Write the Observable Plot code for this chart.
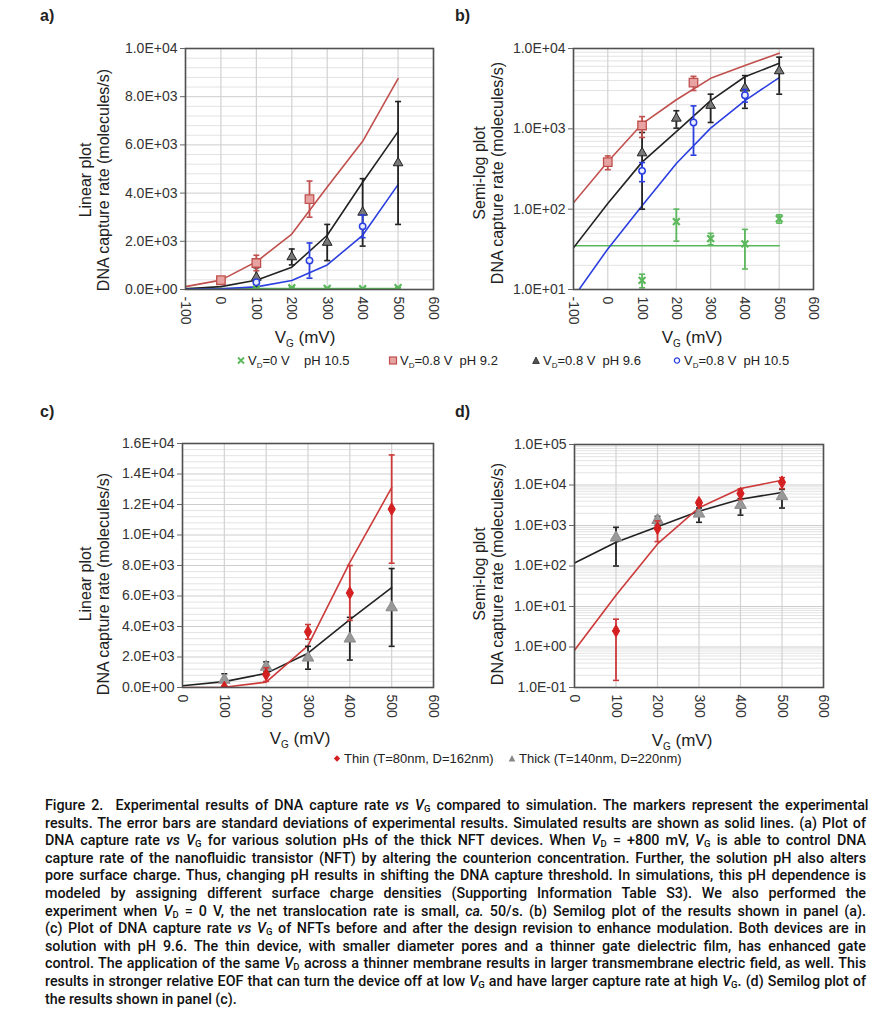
<!DOCTYPE html>
<html><head><meta charset="utf-8">
<script src="https://cdn.jsdelivr.net/npm/d3@7"></script>
<script src="https://cdn.jsdelivr.net/npm/@observablehq/plot@0.6"></script>
<style>
body{margin:0;background:#fff;width:889px;height:1024px;position:relative;overflow:hidden;font-family:"Liberation Sans",Arial,sans-serif;color:#222}
.plabel{position:absolute;font-weight:bold;font-size:16px;font-family:"Liberation Sans",Arial,sans-serif}
.ylab{position:absolute;transform:translate(-50%,-50%) rotate(-90deg);text-align:center;font-size:16px;line-height:18px;white-space:nowrap;color:#222}
.xlab{position:absolute;transform:translate(-50%,-50%);font-size:17px;white-space:nowrap;color:#222}
.xlab sub{font-size:10px;vertical-align:-4px}
.leg{position:absolute;font-size:13px;white-space:nowrap;transform:translateY(-50%);color:#222}
.leg sub{font-size:8px;vertical-align:-3px}
.leg svg{position:absolute;left:-12px;top:3px}
#cap{position:absolute;left:45px;top:797px;width:821px;font-family:Roboto,sans-serif;font-weight:500;font-size:14.3px;line-height:17.6px;color:#111}
#cap .ln{white-space:nowrap;width:821px;overflow:visible}
#cap sub{font-size:9.5px;vertical-align:-2px;line-height:0}
</style>
</head><body>
<script>
// ---------- data: panel a / b (thick NFT, various pH) ----------
const vgSim = [-100, 0, 100, 200, 300, 400, 500];
const simPH92 = [120, 390, 1150, 2300, 4250, 6150, 8750];
const simPH96 = [33, 118, 385, 925, 2250, 4450, 6550];
const simPH105 = [8, 32, 110, 370, 1020, 2250, 4350];
const simVD0 = [35, 35, 35, 35, 35, 35, 35];

const vgVD0 = [100, 200, 300, 400, 500];
const expVD0 = [13, 70, 43, 37, 76];
const sdVD0 = [2.5, 30, 7, 19, 9];

const vgPH92 = [0, 100, 250];
const expPH92 = [385, 1100, 3750];
const sdPH92 = [75, 320, 750];

const vgPH96 = [100, 200, 300, 400, 500];
const expPH96 = [500, 1350, 1950, 3200, 5250];
const sdPH96 = [400, 330, 750, 1400, 2550];

const vgPH105 = [100, 250, 400];
const expPH105 = [300, 1200, 2620];
const sdPH105 = [80, 730, 470];

// ---------- data: panel c / d (thin vs thick) ----------
const vgCD = [0, 100, 200, 300, 400, 500];
const simThin = [0.83, 19, 350, 2750, 8200, 13100];
const simThick = [118, 385, 925, 2250, 4450, 6550];

const vgThin = [100, 200, 300, 400, 500];
const expThin = [2.5, 850, 3650, 6200, 11700];
const sdThin = [2.35, 450, 480, 1800, 3550];

const vgThick = [100, 200, 300, 400, 500];
const expThick = [500, 1350, 1950, 3200, 5250];
const sdThick = [400, 330, 750, 1400, 2550];

// ---------- tick values ----------
const xTicksAB = [-100, 0, 100, 200, 300, 400, 500, 600];
const xTicksCD = [0, 100, 200, 300, 400, 500, 600];
const yTicksA = [0, 2000, 4000, 6000, 8000, 10000];
const yTicksB = [10, 100, 1000, 10000];
const yTicksC = [0, 2000, 4000, 6000, 8000, 10000, 12000, 14000, 16000];
const yTicksD = [0.1, 1, 10, 100, 1000, 10000, 100000];

// ---------- colours ----------
const cGreen = "#5cb85c", cRed = "#c0504d", cRedFill = "#e6a3a1", cBlack = "#222", cBlue = "#2b3fe0";
const cThin = "#d42020", cThinLine = "#cc3a3a", cThick = "#999";

function sci(d){
  if (d === 0) return "0.0E+00";
  const e = Math.floor(Math.log10(d) + 1e-9);
  const m = d / Math.pow(10, e);
  return m.toFixed(1) + "E" + (e < 0 ? "-" : "+") + String(Math.abs(e)).padStart(2, "0");
}
const minorLin = (ticks) => { const out=[]; for (let i=0;i<ticks.length-1;i++){ const s=(ticks[i+1]-ticks[i])/5; for(let k=1;k<5;k++) out.push(ticks[i]+k*s);} return out; };
const minorLog = (ticks) => { const out=[]; for (let i=0;i<ticks.length-1;i++){ for(let k=2;k<10;k++) out.push(ticks[i]*k);} return out; };

const cap = { draw(ctx, size){ const w = Math.sqrt(size/Math.PI); ctx.moveTo(-w,0); ctx.lineTo(w,0); } };

function sim(xs, ys, color, w=1.6){
  return Plot.line(xs.map((x,i)=>({x, y:ys[i]})), {x:"x", y:"y", stroke:color, strokeWidth:w, clip:true});
}
function exp(xs, ms, sds, barColor, dotOpts){
  const data = xs.map((x,i)=>({x, m:ms[i], lo:ms[i]-sds[i], hi:ms[i]+sds[i]}));
  return [
    Plot.ruleX(data, {x:"x", y1:"lo", y2:"hi", stroke:barColor, strokeWidth:1.8, clip:true}),
    Plot.dot(data, {x:"x", y:"lo", symbol:cap, r:3, stroke:barColor, strokeWidth:1.6, clip:true}),
    Plot.dot(data, {x:"x", y:"hi", symbol:cap, r:3, stroke:barColor, strokeWidth:1.6, clip:true}),
    Plot.dot(data, {x:"x", y:"m", clip:true, ...dotOpts})
  ];
}

function panel({x0,y0,w,h,ml,mr,mt,mb,xDomain,xTicks,yType,yDomain,yTicks,yMinor,lines,points}){
  const chart = Plot.plot({
    width:w, height:h, marginLeft:ml, marginRight:mr, marginTop:mt, marginBottom:mb,
    style:{fontFamily:"'Liberation Sans', Arial, sans-serif", fontSize:"14px", color:"#333", background:"transparent", overflow:"visible"},
    x:{domain:xDomain},
    y:{type:yType, domain:yDomain},
    marks:[
      Plot.ruleY(yMinor, {stroke:"#e3e3e3", strokeWidth:1}),
      Plot.ruleY(yTicks, {stroke:"#cdcdcd", strokeWidth:1}),
      Plot.ruleX(xTicks, {stroke:"#d2d2d2", strokeWidth:1.2}),
      ...lines,
      ...points,
      Plot.frame({stroke:"#505050", strokeWidth:1.6}),
      Plot.axisY({ticks:yTicks, tickFormat:sci, tickSize:5, tickPadding:3, label:null, stroke:"#666"}),
      Plot.axisX({ticks:xTicks, tickFormat:d=>String(d), tickRotate:90, tickSize:0, tickPadding:7, label:null})
    ]
  });
  chart.style.position = "absolute";
  chart.style.left = x0 + "px";
  chart.style.top = y0 + "px";
  document.body.appendChild(chart);
}

const dotsAB = () => [
  ...exp(vgPH96, expPH96, sdPH96, cBlack, {symbol:"triangle", r:3.6, fill:"#777", stroke:cBlack, strokeWidth:1}),
  ...exp(vgPH105, expPH105, sdPH105, cBlue, {symbol:"circle", r:3.2, fill:"#e8ecff", stroke:cBlue, strokeWidth:1.5}),
  ...exp(vgPH92, expPH92, sdPH92, cRed, {symbol:"square", r:4.8, fill:cRedFill, stroke:cRed, strokeWidth:1.3}),
  ...exp(vgVD0, expVD0, sdVD0, cGreen, {symbol:"times", r:3.2, stroke:cGreen, strokeWidth:2.2})
];
const linesAB = () => [
  sim(vgSim, simVD0, cGreen), sim(vgSim, simPH92, cRed), sim(vgSim, simPH96, cBlack), sim(vgSim, simPH105, cBlue)
];

// a) linear
panel({x0:0, y0:0, w:445, h:335, ml:185, mr:12, mt:48, mb:46,
  xDomain:[-100,600], xTicks:xTicksAB, yType:"linear", yDomain:[0,10000], yTicks:yTicksA, yMinor:minorLin(yTicksA),
  lines:linesAB(), points:dotsAB()});
// b) semi-log
panel({x0:445, y0:0, w:444, h:335, ml:128, mr:76, mt:48, mb:46,
  xDomain:[-100,600], xTicks:xTicksAB, yType:"log", yDomain:[10,10000], yTicks:yTicksB, yMinor:minorLog(yTicksB),
  lines:linesAB(), points:dotsAB()});

const dotsCD = () => [
  ...exp(vgThick, expThick, sdThick, cBlack, {symbol:"triangle", r:4.3, fill:cThick, stroke:"#8a8a8a", strokeWidth:1}),
  ...exp(vgThin, expThin, sdThin, cThinLine, {symbol:"diamond", r:3.8, fill:cThin, stroke:cThin, strokeWidth:1})
];
const linesCD = () => [ sim(vgCD, simThick, cBlack), sim(vgCD, simThin, cThinLine) ];

// c) linear
panel({x0:0, y0:395, w:445, h:340, ml:182, mr:12, mt:48, mb:48,
  xDomain:[0,600], xTicks:xTicksCD, yType:"linear", yDomain:[0,16000], yTicks:yTicksC, yMinor:minorLin(yTicksC),
  lines:linesCD(), points:dotsCD()});
// d) semi-log
panel({x0:445, y0:395, w:444, h:340, ml:129, mr:66, mt:49, mb:48,
  xDomain:[0,600], xTicks:xTicksCD, yType:"log", yDomain:[0.1,100000], yTicks:yTicksD, yMinor:minorLog(yTicksD),
  lines:linesCD(), points:dotsCD()});

// ---------- annotations ----------
function add(html){ const d=document.createElement("div"); d.innerHTML=html; document.body.appendChild(d.firstElementChild); }
add('<div class="plabel" style="left:40px;top:7px">a)</div>');
add('<div class="plabel" style="left:455px;top:7px">b)</div>');
add('<div class="plabel" style="left:40px;top:403px">c)</div>');
add('<div class="plabel" style="left:455px;top:403px">d)</div>');

add('<div class="ylab" style="left:95px;top:180px">Linear plot<br>DNA capture rate (molecules/s)</div>');
add('<div class="ylab" style="left:489px;top:173px">Semi-log plot<br>DNA capture rate (molecules/s)</div>');
add('<div class="ylab" style="left:95px;top:584px">Linear plot<br>DNA capture rate (molecules/s)</div>');
add('<div class="ylab" style="left:489px;top:574px">Semi-log plot<br>DNA capture rate (molecules/s)</div>');

add('<div class="xlab" style="left:305px;top:338px">V<sub>G</sub> (mV)</div>');
add('<div class="xlab" style="left:692px;top:338px">V<sub>G</sub> (mV)</div>');
add('<div class="xlab" style="left:300px;top:739px">V<sub>G</sub> (mV)</div>');
add('<div class="xlab" style="left:682px;top:741px">V<sub>G</sub> (mV)</div>');

const svgM = (inner) => `<svg width="10" height="10" viewBox="-5 -5 10 10">${inner}</svg>`;
add(`<div class="leg" style="left:248px;top:361px">${svgM(`<path d="M-3,-3L3,3M-3,3L3,-3" stroke="${cGreen}" stroke-width="1.8"/>`)}V<sub>D</sub>=0 V&nbsp;&nbsp;&nbsp; pH 10.5</div>`);
add(`<div class="leg" style="left:400px;top:361px">${svgM(`<rect x="-3.5" y="-3.5" width="7" height="7" fill="${cRedFill}" stroke="${cRed}" stroke-width="1.2"/>`)}V<sub>D</sub>=0.8 V&nbsp; pH 9.2</div>`);
add(`<div class="leg" style="left:543px;top:361px">${svgM(`<path d="M0,-3.5L3.3,3L-3.3,3Z" fill="#555" stroke="#222" stroke-width="0.8"/>`)}V<sub>D</sub>=0.8 V&nbsp; pH 9.6</div>`);
add(`<div class="leg" style="left:684px;top:361px">${svgM(`<circle r="2.6" fill="#fff" stroke="${cBlue}" stroke-width="1.3"/>`)}V<sub>D</sub>=0.8 V&nbsp; pH 10.5</div>`);

add(`<div class="leg" style="left:344px;top:758px">${svgM(`<path d="M0,-3.2L3.2,0L0,3.2L-3.2,0Z" fill="${cThin}"/>`)}Thin (T=80nm, D=162nm)</div>`);
add(`<div class="leg" style="left:519px;top:758px">${svgM(`<path d="M0,-3.5L3.3,3L-3.3,3Z" fill="#888"/>`)}Thick (T=140nm, D=220nm)</div>`);

// ---------- caption ----------
const VG = '<i>V</i><sub>G</sub>', VD = '<i>V</i><sub>D</sub>';
const captionLines = [
  `Figure 2.&nbsp; Experimental results of DNA capture rate <i>vs</i> ${VG} compared to simulation. The markers represent the experimental`,
  `results. The error bars are standard deviations of experimental results. Simulated results are shown as solid lines. (a) Plot of`,
  `DNA capture rate <i>vs</i> ${VG} for various solution pHs of the thick NFT devices. When ${VD} = +800 mV, ${VG} is able to control DNA`,
  `capture rate of the nanofluidic transistor (NFT) by altering the counterion concentration. Further, the solution pH also alters`,
  `pore surface charge. Thus, changing pH results in shifting the DNA capture threshold. In simulations, this pH dependence is`,
  `modeled by assigning different surface charge densities (Supporting Information Table S3). We also performed the`,
  `experiment when ${VD} = 0 V, the net translocation rate is small, <i>ca.</i> 50/s. (b) Semilog plot of the results shown in panel (a).`,
  `(c) Plot of DNA capture rate <i>vs</i> ${VG} of NFTs before and after the design revision to enhance modulation. Both devices are in`,
  `solution with pH 9.6. The thin device, with smaller diameter pores and a thinner gate dielectric film, has enhanced gate`,
  `control. The application of the same ${VD} across a thinner membrane results in larger transmembrane electric field, as well. This`,
  `results in stronger relative EOF that can turn the device off at low ${VG} and have larger capture rate at high ${VG}. (d) Semilog plot of`,
  `the results shown in panel (c).`
];
const cap0 = document.createElement("div"); cap0.id = "cap"; document.body.appendChild(cap0);
captionLines.forEach((t, i) => {
  const ln = document.createElement("div"); ln.className = "ln";
  const sp = document.createElement("span"); sp.innerHTML = t; ln.appendChild(sp); cap0.appendChild(ln);
  const w = sp.getBoundingClientRect().width;
  const spaces = (sp.textContent.match(/ /g) || []).length;
  const extra = 821 - w;
  if (i < captionLines.length - 1 && extra >= 0) sp.style.wordSpacing = (extra / spaces) + "px";
  else if (extra < 0) { sp.style.display = "inline-block"; sp.style.transformOrigin = "0 0"; sp.style.transform = `scaleX(${821 / w})`; }
});
</script>
</body></html>
